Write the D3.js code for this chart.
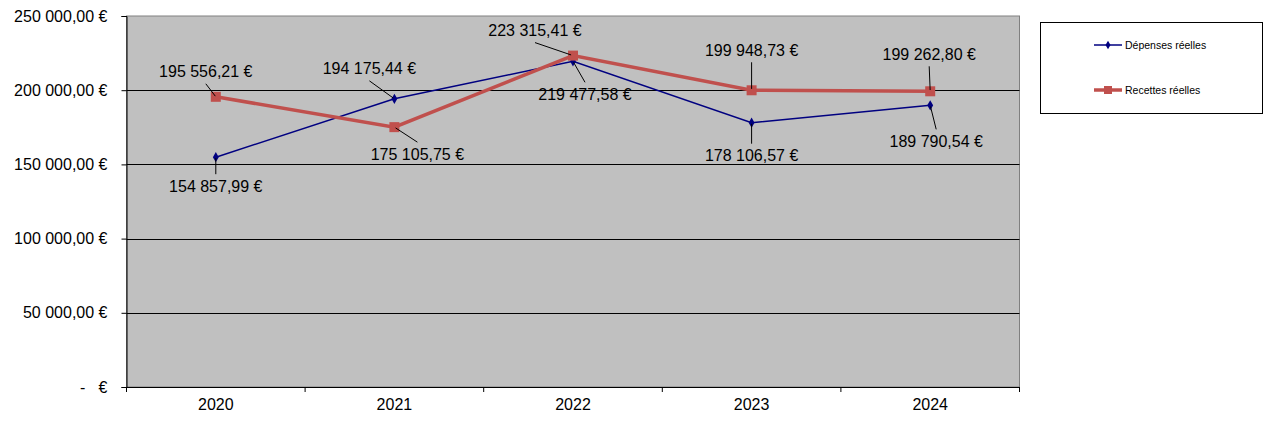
<!DOCTYPE html>
<html>
<head>
<meta charset="utf-8">
<script src="https://cdn.jsdelivr.net/npm/d3@7"></script>
<style>
  body { margin: 0; background: #fff; }
  text { font-family: "Liberation Sans", Arial, sans-serif; }
</style>
</head>
<body>
<div class="canvas"></div>
<script>
const years = ['2020', '2021', '2022', '2023', '2024'];
const depenses = [154857.99, 194175.44, 219477.58, 178106.57, 189790.54];
const recettes = [195556.21, 175105.75, 223315.41, 199948.73, 199262.80];
const yTicks = [0, 50000, 100000, 150000, 200000, 250000];
const seriesNames = ['Dépenses réelles', 'Recettes réelles'];

// label placement relative to the point: [dx, dy] for the text centre
const depLabelPos = [[0, 29], [-25, -30], [12, 33], [0, 33], [6, 36]];
const recLabelPos = [[-10, -25], [23, 27], [-38, -25], [0, -40], [-1, -37]];

const width = 1269, height = 423;
const margin = {top: 16, left: 126.5, right: 249.5, bottom: 36};
const fontSize = 16;

const svg = d3.select('.canvas').append('svg')
    .attr('width', width)
    .attr('height', height);

const x = d3.scaleBand()
    .domain(years)
    .range([margin.left, width - margin.right]);

const y = d3.scaleLinear()
    .domain([0, 250000])
    .range([height - margin.bottom, margin.top]);

const fmt = v => {
  if (v === 0) return '-   €';
  const s = d3.format(',.2f')(v).replace(/,/g, ' ').replace('.', ',');
  return s + ' €';
};

// plot background
svg.append('rect')
    .attr('x', margin.left).attr('y', margin.top)
    .attr('width', x.range()[1] - margin.left)
    .attr('height', y(0) - margin.top)
    .attr('fill', '#c0c0c0')
    .attr('stroke', '#808080')
    .attr('stroke-width', 1);

// gridlines
svg.append('g')
  .selectAll('line')
  .data(yTicks.filter(d => d > 0 && d < 250000))
  .join('line')
    .attr('x1', margin.left).attr('x2', x.range()[1])
    .attr('y1', d => Math.round(y(d)) + 0.5).attr('y2', d => Math.round(y(d)) + 0.5)
    .attr('stroke', '#000').attr('stroke-width', 1);

// y axis
const yAxis = svg.append('g')
    .attr('transform', `translate(${margin.left},0)`)
    .call(d3.axisLeft(y).tickValues(yTicks).tickFormat(fmt).tickSize(5).tickPadding(14));
yAxis.select('.domain').attr('stroke', '#000');
yAxis.selectAll('.tick line').attr('stroke', '#000');
yAxis.selectAll('text').attr('font-size', fontSize).attr('fill', '#000')
    .attr('xml:space', 'preserve').style('white-space', 'pre')
    .attr('font-family', '"Liberation Sans", Arial, sans-serif');

// x axis with ticks between categories
const xAxis = svg.append('g')
    .attr('transform', `translate(0,${y(0)})`)
    .call(d3.axisBottom(x).tickSize(0).tickPadding(12));
xAxis.select('.domain').attr('stroke', '#000');
xAxis.selectAll('text').attr('font-size', fontSize).attr('fill', '#000')
    .attr('font-family', '"Liberation Sans", Arial, sans-serif');
const bounds = years.map(d => x(d)).concat([x.range()[1]]);
xAxis.selectAll('.sep')
  .data(bounds)
  .join('line')
    .attr('class', 'sep')
    .attr('x1', d => d).attr('x2', d => d)
    .attr('y1', 0).attr('y2', 5)
    .attr('stroke', '#000');

const cx = d => x(d) + x.bandwidth() / 2;
const line = d3.line().x(d => cx(d.year)).y(d => y(d.v));

const depData = years.map((year, i) => ({year, v: depenses[i], pos: depLabelPos[i]}));
const recData = years.map((year, i) => ({year, v: recettes[i], pos: recLabelPos[i]}));

// Dépenses line
svg.append('path')
    .datum(depData)
    .attr('d', line)
    .attr('fill', 'none')
    .attr('stroke', '#000080')
    .attr('stroke-width', 1.5);

// Recettes line
svg.append('path')
    .datum(recData)
    .attr('d', line)
    .attr('fill', 'none')
    .attr('stroke', '#c0504d')
    .attr('stroke-width', 3.5);

// markers
svg.append('g').selectAll('path')
  .data(depData)
  .join('path')
    .attr('d', d3.symbol(d3.symbolDiamond, 30))
    .attr('transform', d => `translate(${cx(d.year)},${y(d.v)})`)
    .attr('fill', '#000080');

svg.append('g').selectAll('rect')
  .data(recData)
  .join('rect')
    .attr('x', d => cx(d.year) - 5).attr('y', d => y(d.v) - 5)
    .attr('width', 10).attr('height', 10)
    .attr('fill', '#c0504d');

// data labels with leader lines
function labels(data) {
  const g = svg.append('g');
  data.forEach(d => {
    const px = cx(d.year), py = y(d.v);
    const tx = px + d.pos[0], ty = py + d.pos[1];
    const dir = d.pos[1] > 0 ? -1 : 1;
    const ex = tx, ey = ty + dir * 12;
    g.append('line')
        .attr('x1', px + (ex - px) * 0.05).attr('y1', py + (ey - py) * 0.05)
        .attr('x2', ex).attr('y2', ey)
        .attr('stroke', '#000').attr('stroke-width', 1);
    g.append('text')
        .attr('x', tx).attr('y', ty)
        .attr('dy', '0.35em')
        .attr('text-anchor', 'middle')
        .attr('font-size', fontSize)
        .attr('fill', '#000')
        .text(fmt(d.v));
  });
}
labels(depData);
labels(recData);

// legend
const legend = svg.append('g');
legend.append('rect')
    .attr('x', 1040.5).attr('y', 22.5)
    .attr('width', 222).attr('height', 91)
    .attr('fill', '#fff').attr('stroke', '#000');
const legendRows = [
  {name: seriesNames[0], color: '#000080', w: 1.5, type: 'diamond', ly: 45},
  {name: seriesNames[1], color: '#c0504d', w: 3.5, type: 'square', ly: 90}
];
legendRows.forEach(r => {
  legend.append('line')
      .attr('x1', 1094).attr('x2', 1122)
      .attr('y1', r.ly).attr('y2', r.ly)
      .attr('stroke', r.color).attr('stroke-width', r.w);
  if (r.type === 'diamond') {
    legend.append('path')
        .attr('d', d3.symbol(d3.symbolDiamond, 22))
        .attr('transform', `translate(1108,${r.ly})`)
        .attr('fill', r.color);
  } else {
    legend.append('rect')
        .attr('x', 1104).attr('y', r.ly - 4)
        .attr('width', 8).attr('height', 8)
        .attr('fill', r.color);
  }
  legend.append('text')
      .attr('x', 1125).attr('y', r.ly)
      .attr('dy', '0.35em')
      .attr('font-size', 10.5)
      .attr('fill', '#000')
      .text(r.name);
});
</script>
</body>
</html>
